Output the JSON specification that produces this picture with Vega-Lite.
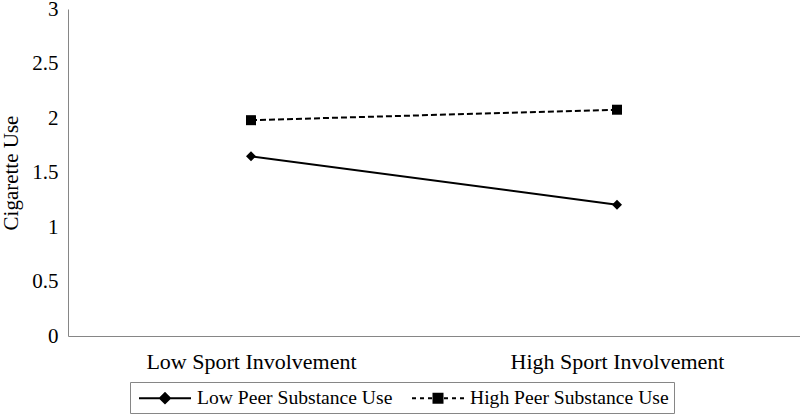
{
  "$schema": "https://vega.github.io/schema/vega-lite/v6.json",
  "width": 732,
  "height": 327,
  "autosize": {"type": "none"},
  "padding": {"left": 68, "top": 9, "right": 0, "bottom": 80},
  "background": "white",
  "config": {
    "view": {"stroke": null},
    "font": "Liberation Serif",
    "axis": {"labelFont": "Liberation Serif", "titleFont": "Liberation Serif", "labelColor": "#000", "titleColor": "#000", "domainColor": "#868686", "ticks": false, "grid": false, "labelLimit": 0},
    "legend": {"labelFont": "Liberation Serif", "labelColor": "#000", "labelLimit": 0}
  },
  "data": {
    "values": [
      {"sport": "Low Sport Involvement", "peer": "Low Peer Substance Use", "use": 1.648},
      {"sport": "High Sport Involvement", "peer": "Low Peer Substance Use", "use": 1.204},
      {"sport": "Low Sport Involvement", "peer": "High Peer Substance Use", "use": 1.98},
      {"sport": "High Sport Involvement", "peer": "High Peer Substance Use", "use": 2.076}
    ]
  },
  "encoding": {
    "x": {
      "field": "sport", "type": "nominal",
      "scale": {"type": "point", "padding": 0.5, "domain": ["Low Sport Involvement", "High Sport Involvement"]},
      "axis": {"title": null, "labelAngle": 0, "labelFontSize": 22, "labelPadding": 15, "domainWidth": 1}
    },
    "y": {
      "field": "use", "type": "quantitative",
      "scale": {"domain": [0, 3], "nice": false},
      "axis": {"title": "Cigarette Use", "titleFontSize": 21, "titleFontWeight": "normal", "titlePadding": 10, "labelFontSize": 21, "labelPadding": 10, "values": [0, 0.5, 1, 1.5, 2, 2.5, 3], "format": "~g", "labelFlush": false}
    }
  },
  "layer": [
    {
      "transform": [{"filter": "datum.peer === 'Low Peer Substance Use'"}],
      "mark": {"type": "line", "color": "black", "strokeWidth": 2},
      "encoding": {}
    },
    {
      "transform": [{"filter": "datum.peer === 'High Peer Substance Use'"}],
      "mark": {"type": "line", "color": "black", "strokeWidth": 2, "strokeDash": [6, 3]},
      "encoding": {}
    },
    {
      "mark": {"type": "point", "filled": true, "color": "black", "opacity": 1, "size": 100},
      "encoding": {
        "shape": {
          "condition": {"test": "datum.peer === 'Low Peer Substance Use'", "value": "diamond"},
          "value": "square"
        }
      }
    },
    {
      "transform": [{"filter": "false"}],
      "mark": {"type": "point", "strokeWidth": 2, "opacity": 1},
      "encoding": {
        "stroke": {
          "field": "peer", "type": "nominal",
          "scale": {"domain": ["Low Peer Substance Use", "High Peer Substance Use"], "range": ["black", "black"]}
        },
        "fill": {
          "field": "peer", "type": "nominal",
          "scale": {"domain": ["Low Peer Substance Use", "High Peer Substance Use"], "range": ["black", "black"]}
        },
        "shape": {
          "field": "peer", "type": "nominal",
          "scale": {
            "domain": ["Low Peer Substance Use", "High Peer Substance Use"],
            "range": [
              "M-0.7,0H4.5M1.4,0L1.9,-0.5L2.4,0L1.9,0.5Z",
              "M-0.7,0H-0.3M0.1,0H0.5M0.9,0H1.3M2.5,0H2.9M3.3,0H3.7M4.1,0H4.5M1.45,-0.45H2.35V0.45H1.45Z"
            ]
          },
          "legend": {
            "title": null,
            "orient": "none",
            "legendX": 62,
            "legendY": 373,
            "direction": "horizontal",
            "labelFont": "Liberation Serif",
            "labelFontSize": 19.6,
            "symbolSize": 400,
            "symbolStrokeWidth": 2,
            "symbolOpacity": 1,
            "labelOffset": 40,
            "columnPadding": 15,
            "padding": 5,
            "strokeColor": "#868686"
          }
        }
      }
    }
  ]
}
